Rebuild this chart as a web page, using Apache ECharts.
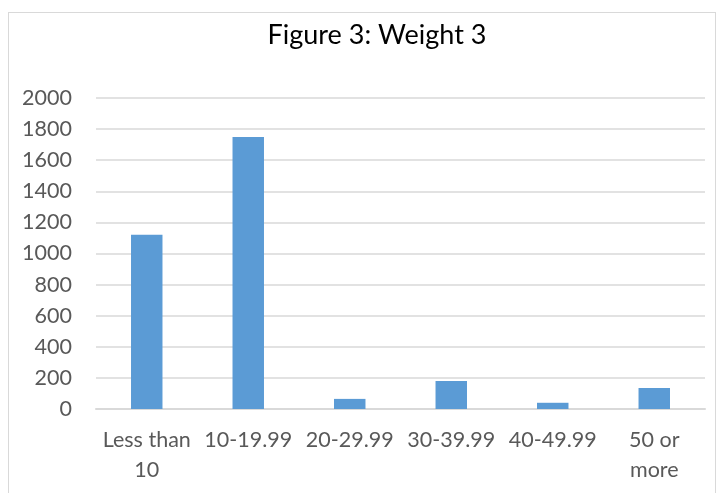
<!DOCTYPE html>
<html>
<head>
<meta charset="utf-8">
<script src="https://cdn.jsdelivr.net/npm/echarts@6/dist/echarts.min.js"></script>
<style>
  html, body { margin: 0; padding: 0; background: #ffffff; }
  #frame { position: absolute; left: 8px; top: 12px; width: 708px; height: 500px; border: 1px solid #d9d9d9; box-sizing: border-box; }
  #chart { width: 721px; height: 493px; position: absolute; left: 0; top: 0; }
</style>
</head>
<body>
<div id="frame"></div>
<div id="chart"></div>
<script>
// Weight bands and the count in each band
const categories = ['Less than\n10', '10-19.99', '20-29.99', '30-39.99', '40-49.99', '50 or\nmore'];
const counts = [1120, 1750, 65, 180, 40, 135];
const yTicks = { min: 0, max: 2000, step: 200 };

const chart = echarts.init(document.getElementById('chart'), null, { renderer: 'canvas' });
const font = 'Lato, "Open Sans", sans-serif';

chart.setOption({
  animation: false,
  backgroundColor: 'transparent',
  title: {
    text: 'Figure 3: Weight 3',
    left: 372,
    textAlign: 'center',
    top: 13,
    textStyle: { fontFamily: font, fontSize: 27, fontWeight: 'normal', color: '#000000', lineHeight: 34 }
  },
  grid: { left: 96, right: 16, top: 98, bottom: 84, containLabel: false },
  xAxis: {
    type: 'category',
    data: categories,
    axisLine: { show: true, lineStyle: { color: '#d9d9d9', width: 2 } },
    axisTick: { show: false },
    axisLabel: {
      fontFamily: font, fontSize: 21.5, color: '#595959',
      margin: 16, lineHeight: 30, interval: 0
    },
    splitLine: { show: false }
  },
  yAxis: {
    type: 'value',
    min: yTicks.min, max: yTicks.max, interval: yTicks.step,
    axisLine: { show: false },
    axisTick: { show: false },
    axisLabel: {
      fontFamily: font, fontSize: 21.5, color: '#595959', margin: 24,
      formatter: v => String(v)
    },
    splitLine: { lineStyle: { color: '#d9d9d9', width: 1.5 } }
  },
  series: [{
    type: 'bar',
    data: counts,
    barWidth: '31%',
    itemStyle: { color: '#5b9bd5' }
  }]
});
</script>
</body>
</html>
